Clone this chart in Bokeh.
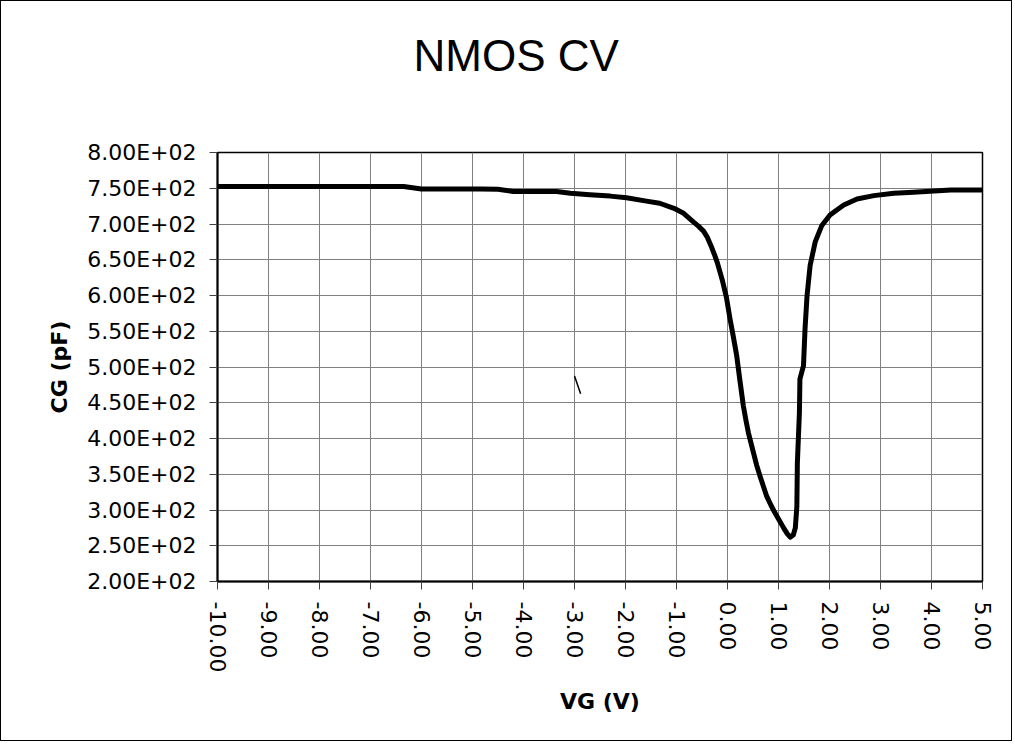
from bokeh.plotting import figure
from bokeh.models import Range1d, FixedTicker, LinearAxis
from bokeh.embed import file_html
from bokeh.resources import INLINE

title_text = "NMOS CV"
x_label = "VG (V)"
y_label = "CG (pF)"

vg = [-10.0, -6.35, -6.0, -4.85, -4.5, -4.2, -3.35, -3.08, -2.7, -2.3, -1.98,
      -1.59, -1.33, -1.05, -0.86, -0.67, -0.57, -0.47, -0.40, -0.32, -0.25, -0.2,
      -0.12, -0.1, -0.02,
      0.05, 0.11, 0.18, 0.24, 0.31, 0.36, 0.41, 0.51, 0.57, 0.64, 0.77, 0.85, 0.93,
      1.02, 1.10, 1.17, 1.23,
      1.29, 1.33, 1.36, 1.37, 1.41, 1.42, 1.49, 1.52, 1.56, 1.62, 1.72, 1.85,
      2.01, 2.15, 2.28, 2.54, 2.87, 3.26, 3.65, 4.05, 4.38, 5.0]
cg = [752.5, 752.5, 749.0, 749.0, 748.5, 745.5, 745.5, 743.0, 741.0, 739.0, 736.7,
      732.0, 729.0, 722.0, 715.0, 703.0, 697.0, 690.0, 682.0, 669.0, 656.0, 646.0,
      626.0, 621.0, 597.0,
      567.0, 544.0, 516.0, 483.0, 446.0, 426.0, 408.0, 380.0, 363.0, 347.0, 319.0, 307.0, 296.0,
      285.0, 275.0, 267.0, 262.0,
      265.0, 275.0, 305.0, 366.0, 436.0, 483.0, 502.0, 553.0, 600.0, 642.0, 675.0, 698.0,
      712.5, 720.0, 726.6, 735.0, 739.7, 743.0, 744.4, 746.0, 747.7, 747.7]

# small stray mark visible in the original chart
stray_x = [-3.0, -2.88]
stray_y = [487.5, 462.5]

x_ticks = [-10, -9, -8, -7, -6, -5, -4, -3, -2, -1, 0, 1, 2, 3, 4, 5]
y_ticks = [200, 250, 300, 350, 400, 450, 500, 550, 600, 650, 700, 750, 800]

W, H = 1012, 741

p = figure(width=W, height=H, output_backend="svg", toolbar_location=None,
           x_range=Range1d(-10, 5), y_range=Range1d(200, 800),
           min_border_left=216, min_border_right=31, min_border_top=151,
           min_border_bottom=161)
p.styles = {"border": "1px solid black"}
p.background_fill_color = "white"
p.border_fill_color = "white"
p.outline_line_color = "black"
p.outline_line_width = 1.5

xax = p.below[0]
yax = p.left[0]

# invisible spacer axis between frame and title
spacer = LinearAxis(ticker=FixedTicker(ticks=[0]), axis_line_color=None,
                    major_tick_line_color=None, minor_tick_line_color=None,
                    major_tick_out=71, major_tick_in=0, minor_tick_out=0,
                    major_label_standoff=0, major_label_text_font_size="0px",
                    major_label_overrides={0: ""})
p.add_layout(spacer, "above")

p.title.text = title_text
p.title.align = "left"
p.title.offset = 196
p.title.vertical_align = "top"
p.title.standoff = 0
p.title.text_font = "Liberation Sans"
p.title.text_font_size = "44px"
p.title.text_font_style = "normal"
p.title.text_color = "black"

p.line(vg, cg, line_color="black", line_width=5, line_join="round", line_cap="round")
p.line(stray_x, stray_y, line_color="black", line_width=1.5)

xax.ticker = FixedTicker(ticks=x_ticks)
yax.ticker = FixedTicker(ticks=y_ticks)
xax.major_label_overrides = {t: f"{t:.2f}" for t in x_ticks}
yax.major_label_overrides = {t: f"{t:.2E}" for t in y_ticks}
xax.major_label_orientation = "vertical"

for ax in (xax, yax):
    ax.axis_line_color = "black"
    ax.axis_line_width = 2
    ax.major_tick_line_color = "#404040"
    ax.major_tick_line_width = 1
    ax.major_tick_out = 8
    ax.major_tick_in = 0
    ax.minor_tick_line_color = None
    ax.major_label_text_font = "DejaVu Sans"
    ax.major_label_text_font_size = "22px"
    ax.major_label_text_color = "black"
    ax.axis_label_text_font = "DejaVu Sans"
    ax.axis_label_text_font_size = "22px"
    ax.axis_label_text_font_style = "bold"
    ax.axis_label_text_color = "black"

xax.major_label_standoff = 12
yax.major_label_standoff = 13
xax.axis_label = x_label
yax.axis_label = y_label
xax.axis_label_standoff = 14
yax.axis_label_standoff = 12

p.xgrid.grid_line_color = "#808080"
p.ygrid.grid_line_color = "#808080"
p.xgrid.grid_line_width = 1
p.ygrid.grid_line_width = 1

open("out.html", "w").write(file_html(p, INLINE))
